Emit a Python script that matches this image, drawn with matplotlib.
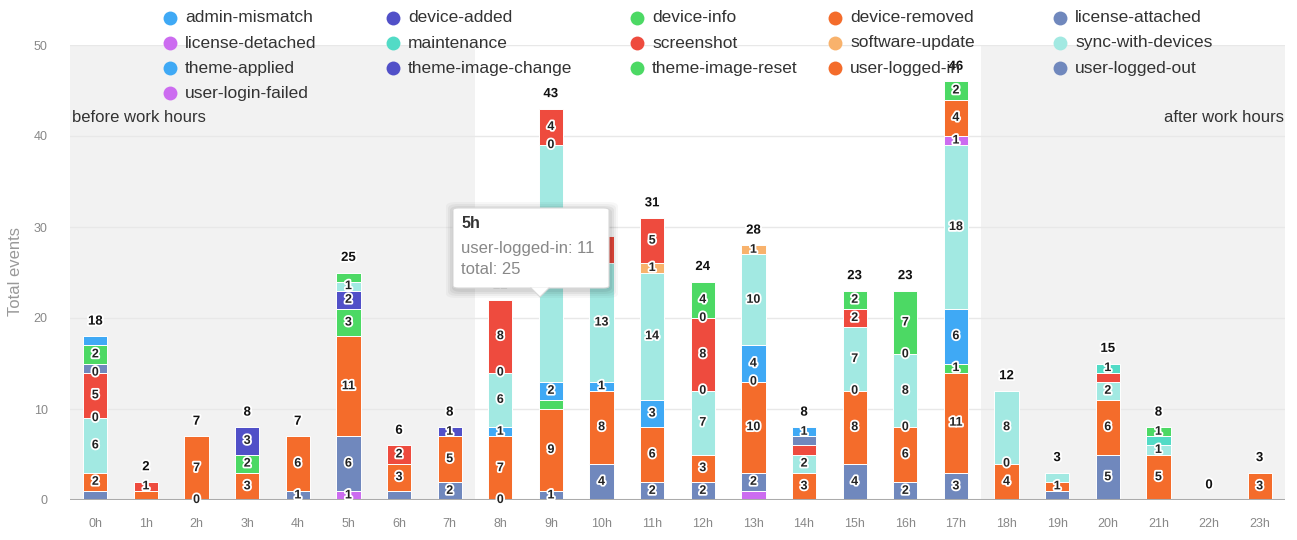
import matplotlib
matplotlib.use("Agg")
import matplotlib.pyplot as plt
import matplotlib.patheffects as pe
from matplotlib.patches import FancyBboxPatch, Polygon
from matplotlib.lines import Line2D

plt.rcParams["font.family"] = ["Liberation Sans", "DejaVu Sans"]

# ---- data -------------------------------------------------------------
hours = ["0h", "1h", "2h", "3h", "4h", "5h", "6h", "7h", "8h", "9h", "10h", "11h",
         "12h", "13h", "14h", "15h", "16h", "17h", "18h", "19h", "20h", "21h", "22h", "23h"]

_ = None  # no events of that type in the hour
#                    0h 1h 2h 3h 4h 5h 6h 7h 8h 9h 10 11 12 13 14 15 16 17 18 19 20 21 22 23
admin_mismatch     = [1, _, _, _, _, _, _, _, _, _, _, _, _, _, 1, _, _, _, _, _, _, _, _, _]
device_added       = [_, _, _, _, _, _, _, _, _, _, _, _, _, _, _, _, _, _, _, _, _, _, _, _]
device_info        = [2, _, _, _, _, 1, _, _, _, _, _, _, 4, _, _, 2, 7, 2, _, _, _, 1, _, _]
device_removed     = [_, _, _, _, _, _, _, _, _, _, _, _, _, _, _, _, _, 4, _, _, _, _, _, _]
license_attached   = [1, _, _, _, _, _, _, _, _, _, _, _, _, _, 1, _, _, _, _, _, _, _, _, _]
license_detached   = [_, _, _, _, _, _, _, _, _, _, _, _, _, _, _, _, _, 1, _, _, _, _, _, _]
maintenance        = [0, _, _, _, _, _, _, _, _, _, _, _, 0, _, _, _, _, _, _, _, 1, 1, _, _]
screenshot         = [5, 1, _, _, _, _, 2, _, 8, 4, 3, 5, 8, _, 1, 2, _, _, _, _, 1, _, _, _]
software_update    = [0, _, _, _, _, _, _, _, 0, 0, _, 1, 0, 1, _, _, 0, _, _, _, _, _, _, _]
sync_with_devices  = [6, _, _, _, _, 1, _, _, 6, 26, 13, 14, 7, 10, 2, 7, 8, 18, 8, 1, 2, 1, _, _]
theme_applied      = [_, _, _, _, _, _, _, _, 1, 2, 1, 3, _, 4, _, _, _, 6, _, _, _, _, _, _]
theme_image_change = [_, _, _, 3, _, 2, _, 1, _, _, _, _, _, _, _, _, _, _, _, _, _, _, _, _]
theme_image_reset  = [_, _, _, 2, _, 3, _, _, _, 1, _, _, _, 0, _, 0, 0, 1, 0, _, _, _, _, _]
user_logged_in     = [2, 1, 7, 3, 6, 11, 3, 5, 7, 9, 8, 6, 3, 10, 3, 8, 6, 11, 4, 1, 6, 5, _, 3]
user_logged_out    = [1, _, 0, _, 1, 6, 1, 2, 0, 1, 4, 2, 2, 2, _, 4, 2, 3, _, 1, 5, _, _, _]
user_login_failed  = [_, _, _, _, _, 1, _, _, _, _, _, _, _, 1, _, _, _, _, _, _, _, _, _, _]

series_names = ["admin-mismatch", "device-added", "device-info", "device-removed",
                "license-attached", "license-detached", "maintenance", "screenshot",
                "software-update", "sync-with-devices", "theme-applied", "theme-image-change",
                "theme-image-reset", "user-logged-in", "user-logged-out", "user-login-failed"]
series_values = [admin_mismatch, device_added, device_info, device_removed,
                 license_attached, license_detached, maintenance, screenshot,
                 software_update, sync_with_devices, theme_applied, theme_image_change,
                 theme_image_reset, user_logged_in, user_logged_out, user_login_failed]

palette = ["#3fa9f5", "#5150c8", "#4cd964", "#f46c2b", "#7088bd",
           "#cc6cf0", "#52dbc6", "#ee4b3e", "#f8b26c", "#a2e9e2"]
series_colors = [palette[i % len(palette)] for i in range(len(series_names))]

# segment labels suppressed where they would collide with neighbours
unlabeled = {(0, "user-logged-out"), (0, "license-attached"), (0, "admin-mismatch"),
             (1, "user-logged-in"), (5, "device-info"), (6, "user-logged-out"),
             (9, "theme-image-reset"), (13, "user-login-failed"), (14, "screenshot"),
             (14, "license-attached"), (19, "user-logged-out"), (19, "sync-with-devices"),
             (20, "screenshot"), (21, "maintenance")}

work_start, work_end = 8, 18
tooltip_hour, tooltip_series = 5, "user-logged-in"

# ---- figure -----------------------------------------------------------
W, H = 1297, 540
fig = plt.figure(figsize=(W / 100, H / 100), dpi=100)
ax = fig.add_axes([70 / W, 40 / H, 1215 / W, 455 / H])

n = len(hours)
xs = list(range(n))
ax.set_xlim(-0.5, n - 0.5)
ax.set_ylim(0, 50)

# off-hours shading
ax.axvspan(-0.5, work_start - 0.5, color="#f2f2f2", zorder=0, lw=0)
ax.axvspan(work_end - 0.5, n - 0.5, color="#f2f2f2", zorder=0, lw=0)
for yv in [10, 20, 30, 40, 50]:
    ax.axhline(yv, color="#e8e8e8", lw=1, zorder=0.5)
ax.axhline(0, color="#ababab", lw=2.2, zorder=3)

ax.text(-0.46, 42, "before work hours", ha="left", va="center", fontsize=12, color="#333")
ax.text(n - 0.52, 42, "after work hours", ha="right", va="center", fontsize=12, color="#333")

label_fx = [pe.withStroke(linewidth=2.6, foreground="white")]
bar_w = 0.48

bottoms = [0.0] * n
# stack from the last legend entry upwards
for name, vals, col in reversed(list(zip(series_names, series_values, series_colors))):
    for i, v in enumerate(vals):
        if v is None:
            continue
        if v > 0:
            ax.bar(xs[i], v, bottom=bottoms[i], width=bar_w, color=col,
                   edgecolor="white", linewidth=0.7, zorder=2)
        if (i, name) not in unlabeled:
            ax.text(xs[i], bottoms[i] + v / 2, str(v), ha="center", va="center",
                    fontsize=9, fontweight="bold", color="#222",
                    path_effects=label_fx, zorder=4)
        bottoms[i] += v

totals = [int(b) for b in bottoms]
for i, t in enumerate(totals):
    ax.annotate(str(t), (xs[i], t), xytext=(0, 10.5), textcoords="offset points",
                ha="center", va="center", fontsize=9.5, fontweight="bold", color="#111",
                path_effects=label_fx, zorder=4)

ax.set_xticks(xs)
ax.set_xticklabels(hours)
ax.set_yticks([0, 10, 20, 30, 40, 50])
ax.tick_params(axis="both", length=0, labelsize=9, labelcolor="#888")
ax.tick_params(axis="x", pad=13)
ax.tick_params(axis="y", pad=16)
for s in ax.spines.values():
    s.set_visible(False)

fig.text(16 / W, 1 - 272 / H, "Total events", rotation=90, ha="center", va="center",
         fontsize=12, color="#999")

# ---- legend -----------------------------------------------------------
col_x = [170, 393, 637, 835, 1060]
row_y = [18, 43, 68, 93]
for k, (name, col) in enumerate(zip(series_names, series_colors)):
    cx, ry = col_x[k % 5], row_y[k // 5]
    fig.add_artist(Line2D([cx / W], [1 - ry / H], marker="o", markersize=10,
                          color=col, markeredgewidth=0, transform=fig.transFigure))
    fig.text((cx + 15) / W, 1 - ry / H, name, ha="left", va="center",
             fontsize=12.5, color="#333")

# ---- tooltip ----------------------------------------------------------
bx0, by0, bx1, by1 = 453, 208, 609, 288
tip_x = 540
for k, a in enumerate([0.05, 0.05, 0.04, 0.03]):
    g = 2 + 2 * k
    fig.add_artist(FancyBboxPatch(((bx0 - g + 1) / W, 1 - (by1 + g + 2) / H),
                                  (bx1 - bx0 + 2 * g) / W, (by1 - by0 + 2 * g) / H,
                                  boxstyle="round,pad=0,rounding_size=0.008",
                                  transform=fig.transFigure, facecolor="black",
                                  edgecolor="none", alpha=a, zorder=9))
fig.add_artist(FancyBboxPatch((bx0 / W, 1 - by1 / H), (bx1 - bx0) / W, (by1 - by0) / H,
                              boxstyle="round,pad=0,rounding_size=0.004",
                              transform=fig.transFigure, facecolor="white",
                              edgecolor="#d8d8d8", lw=0.8, zorder=10))
fig.add_artist(Polygon([((tip_x - 9) / W, 1 - (by1 - 0.5) / H),
                        ((tip_x + 9) / W, 1 - (by1 - 0.5) / H),
                        (tip_x / W, 1 - (by1 + 9) / H)],
                       closed=True, transform=fig.transFigure, facecolor="white",
                       edgecolor="none", zorder=11))
fig.add_artist(Line2D([(tip_x - 9) / W, tip_x / W, (tip_x + 9) / W],
                      [1 - by1 / H, 1 - (by1 + 9) / H, 1 - by1 / H],
                      color="#d8d8d8", lw=0.8, transform=fig.transFigure, zorder=11))
tip_val = series_values[series_names.index(tooltip_series)][tooltip_hour]
fig.text(461 / W, 1 - 224 / H, hours[tooltip_hour], fontsize=11.5, fontweight="bold",
         color="#333", va="center", zorder=12)
fig.text(461 / W, 1 - 249 / H, f"{tooltip_series}: {tip_val}", fontsize=12,
         color="#888", va="center", zorder=12)
fig.text(461 / W, 1 - 269 / H, f"total: {totals[tooltip_hour]}", fontsize=12,
         color="#888", va="center", zorder=12)

fig.savefig("out.png", dpi=100, facecolor="white")
